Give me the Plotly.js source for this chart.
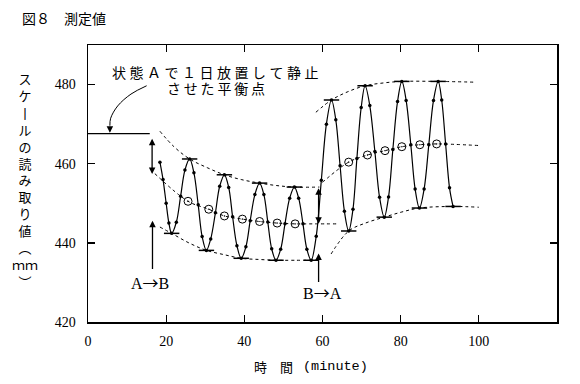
<!DOCTYPE html>
<html>
<head>
<meta charset="utf-8">
<script src="https://cdn.plot.ly/plotly-3.0.1.min.js"></script>
<style>html,body{margin:0;padding:0;background:#fff;}#chart{width:580px;height:384px;}</style>
</head>
<body>
<div id="chart"></div>
<script>
// ---- data ----
const waveT = [18.4,19.2,20.0,20.7,21.4,22.6,23.7,24.8,26.0,27.1,28.2,29.2,30.3,31.4,32.6,33.7,34.9,36.0,37.0,38.1,39.2,40.4,41.5,42.7,43.9,45.0,46.0,47.0,48.1,49.3,50.4,51.6,52.8,53.9,55.0,56.0,57.1,58.4,59.7,61.0,62.3,63.4,64.5,65.6,66.7,67.8,68.8,69.9,70.9,72.1,73.4,74.6,75.8,76.9,78.0,79.2,80.3,81.4,82.6,83.7,84.8,86.0,87.2,88.4,89.6,90.5,91.5,92.5,93.4];
const waveV = [460.4,456.0,450.0,445.0,442.4,445.2,451.8,458.4,461.2,457.7,449.6,441.6,438.1,441.0,447.6,454.3,457.2,454.0,446.6,439.3,436.1,439.0,445.6,452.2,455.1,452.2,445.3,438.5,435.6,438.4,444.8,451.3,454.1,451.3,444.8,438.4,435.6,441.7,455.8,470.0,476.1,471.1,459.5,448.0,443.0,448.5,461.3,474.2,479.7,474.7,463.1,451.5,446.5,451.6,463.6,475.7,480.8,476.0,464.8,453.6,448.8,453.6,464.8,476.0,480.8,476.1,465.0,453.9,449.2];
const extT = [21.4,26.0,30.3,34.9,39.2,43.9,48.1,52.8,57.1,62.3,66.7,70.9,75.8,80.3,84.8,89.6,93.4];
const extV = [442.4,461.2,438.1,457.2,436.1,455.1,435.6,454.1,435.6,476.1,443.0,479.7,446.5,480.8,448.8,480.8,449.2];
const meanAT = [25.6,30.9,34.9,39.5,43.9,48.4,53.0];
const meanAV = [450.5,448.5,446.8,446.0,445.4,445.0,444.8];
const meanBT = [66.7,71.5,76.0,80.3,84.9,89.2];
const meanBV = [460.4,462.2,463.3,464.3,464.8,465.0];
const meanLineAT = [17.1,25.6,30.9,34.9,39.5,43.9,48.4,53.0,58.0,63.5];
const meanLineAV = [457.5,450.5,448.5,446.8,446.0,445.4,445.0,444.8,444.8,444.8];
const meanLineBT = [60.0,66.7,71.5,76.0,80.3,84.9,89.2,100];
const meanLineBV = [455.3,460.4,462.2,463.3,464.3,464.8,465.0,464.6];
const upAT = [18.4,22.0,26.0,30.5,34.9,39.2,43.9,48.1,52.8,59.2];
const upAV = [468.2,464.3,461.2,459.0,457.2,456.0,455.1,454.5,454.1,454.1];
const lowAT = [18.4,21.4,25.8,30.3,34.9,39.2,43.9,48.1,52.8,58.3];
const lowAV = [444.0,442.4,440.0,438.1,437.0,436.1,435.8,435.6,435.6,435.6];
const upBT = [58.3,62.3,66.5,70.9,75.5,80.3,89.6,99.1];
const upBV = [473.0,476.1,478.2,479.7,480.4,480.8,480.8,480.6];
const lowBT = [62.2,66.7,71.0,75.8,80.3,84.8,93.4,100];
const lowBV = [437.2,443.0,445.0,446.5,447.8,448.8,449.2,449.0];
const levelT = [0,15.8];
const levelV = [467.6,467.6];
const ptrT = [15.0,11.0,7.6,5.8,5.6];
const ptrV = [479.7,477.6,474.6,471.5,469.6];
const xTicks = [0,20,40,60,80,100];
const yTicks = [420,440,460,480];

const serif = 'Liberation Serif, Times New Roman, serif';
const cjk = 'Noto Sans CJK JP, sans-serif';
const dash = {color:'black', width:1, dash:'3px,3px', shape:'spline'};

function line(x,y,l){return {x:x,y:y,mode:'lines',line:l,hoverinfo:'skip',showlegend:false,type:'scatter'};}

const traces = [
  line(levelT, levelV, {color:'black', width:1.3}),
  line(ptrT, ptrV, {color:'black', width:1, shape:'spline'}),
  line(upAT, upAV, dash),
  line(lowAT, lowAV, dash),
  line(meanLineAT, meanLineAV, dash),
  line(upBT, upBV, dash),
  line(lowBT, lowBV, dash),
  line(meanLineBT, meanLineBV, dash),
  {x:waveT, y:waveV, mode:'lines+markers', type:'scatter', showlegend:false, hoverinfo:'skip',
   line:{color:'black', width:1.2, shape:'spline', smoothing:1}, marker:{color:'black', size:3.5}},
  {x:extT, y:extV, mode:'markers', type:'scatter', showlegend:false, hoverinfo:'skip',
   marker:{symbol:'line-ew', size:11, line:{width:1.5, color:'black'}}},
  {x:meanAT.concat(meanBT), y:meanAV.concat(meanBV), mode:'markers', type:'scatter', showlegend:false, hoverinfo:'skip',
   marker:{symbol:'circle-open-dot', size:8, color:'black', line:{width:1, color:'black'}}}
];

function arrow(x,y,ax,ay,both){
  return {x:x,y:y,ax:ax,ay:ay,xref:'x',yref:'y',axref:'x',ayref:'y',text:'',showarrow:true,
    arrowhead:2,arrowsize:1,arrowwidth:1.3,arrowcolor:'black',standoff:0,startstandoff:0,
    arrowside: both ? 'end+start' : 'end', startarrowhead:2, startarrowsize:1};
}
function ptxt(text, px, py, font, xa){
  return {text:text, xref:'paper', yref:'paper', x:(px-88)/469, y:(322-py)/277,
          xanchor:xa||'center', yanchor:'middle', showarrow:false, font:font};
}

const ytitle = ['ス','ケ','丨','ル','の','読','み','取','り','値','︵','ｍｍ','︶'].join('<br>');
const arr = '<span style="font-family:Noto Sans CJK JP">→</span>';

const layout = {
  width:580, height:384,
  margin:{l:88, r:23, t:45, b:62},
  paper_bgcolor:'white', plot_bgcolor:'white',
  showlegend:false,
  title:{text:'図８　測定値', x:22/580, xanchor:'left', y:1-19/384, yanchor:'middle',
         xref:'container', yref:'container', font:{family:cjk, size:14, color:'black'}},
  xaxis:{range:[0,120], tickvals:xTicks, ticktext:xTicks.map(String), ticks:'inside', ticklen:7, tickwidth:1.3,
         tickcolor:'black', showline:true, linecolor:'black', linewidth:1.5, mirror:'ticks', showgrid:false,
         zeroline:false, tickfont:{family:serif, size:14, color:'black'}, ticklabelstandoff:6},
  yaxis:{range:[420,490], tickvals:yTicks, ticktext:yTicks.map(String), ticks:'inside', ticklen:7, tickwidth:1.3,
         tickcolor:'black', showline:true, linecolor:'black', linewidth:1.5, mirror:'ticks', showgrid:false,
         zeroline:false, tickfont:{family:serif, size:14, color:'black'}, ticklabelstandoff:8},
  annotations:[
    ptxt('状\u2005態\u2005Ａ\u2005で\u2005１\u2005日\u2005放\u2005置\u2005し\u2005て\u2005静\u2005止', 215, 72, {family:cjk, size:14, color:'black'}),
    ptxt('さ\u2009せ\u2009た\u2009平\u2009衡\u2009点', 216, 88, {family:cjk, size:14, color:'black'}),
    ptxt(ytitle, 25, 180, {family:cjk, size:13, color:'black'}),
    ptxt('時　間', 252, 366, {family:cjk, size:13, color:'black'}, 'left'),
    ptxt('(minute)', 301, 366, {family:'Liberation Mono, monospace', size:13.5, color:'black'}, 'left'),
    {text:'A'+arr+'B', xref:'x', yref:'y', x:15.9, y:430.1, showarrow:false, font:{family:serif, size:16, color:'black'}},
    {text:'B'+arr+'A', xref:'x', yref:'y', x:60.0, y:427.5, showarrow:false, font:{family:serif, size:16, color:'black'}},
    arrow(16.5,445.6,16.5,433.0,false),
    arrow(59.0,437.3,59.0,429.7,false),
    arrow(16.4,457.4,16.4,466.7,true),
    arrow(59.0,444.8,59.0,454.2,true),
    arrow(5.6,467.8,5.6,469.7,false)
  ]
};

Plotly.newPlot('chart', traces, layout, {displayModeBar:false, staticPlot:true});
</script>
</body>
</html>
